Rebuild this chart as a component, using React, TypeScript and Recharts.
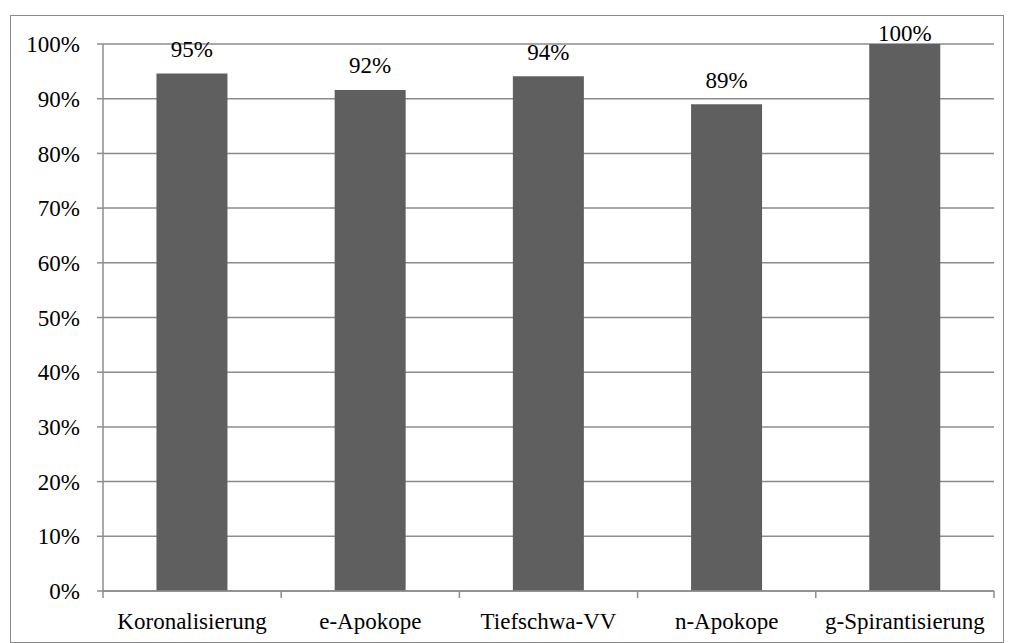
import React from 'react';
import { BarChart, Bar, XAxis, YAxis, CartesianGrid, LabelList } from 'recharts';

const categories = ['Koronalisierung', 'e-Apokope', 'Tiefschwa-VV', 'n-Apokope', 'g-Spirantisierung'];
const shares = [0.946, 0.916, 0.941, 0.89, 1.0];
const yTicks = [0, 0.1, 0.2, 0.3, 0.4, 0.5, 0.6, 0.7, 0.8, 0.9, 1.0];

const data = categories.map((name, i) => ({ name, value: shares[i] }));

const W = 1010;
const H = 643;
const M = { top: 44, right: 16, bottom: 22, left: 0 };
const Y_AXIS_W = 103;
const X_AXIS_H = 30;
const PLOT_W = W - M.left - M.right - Y_AXIS_W;
const STEP = PLOT_W / categories.length;
const AXIS_Y = H - M.bottom - X_AXIS_H;

const FONT = "'Times New Roman', 'Liberation Serif', Tinos, 'DejaVu Serif', serif";
const GRID = '#8c8c8c';
const BAR = '#5f5f5f';

const pct = (v: number) => `${Math.round(v * 100)}%`;

// category label at the band centre, tick marks on the band edges
const CategoryTick = (props: any) => {
  const { x, payload, index } = props;
  const left = x - STEP / 2;
  const last = index === categories.length - 1;
  return (
    <g>
      <line x1={left} x2={left} y1={AXIS_Y} y2={AXIS_Y + 7} stroke={GRID} strokeWidth={1.5} />
      {last && (
        <line x1={left + STEP} x2={left + STEP} y1={AXIS_Y} y2={AXIS_Y + 7} stroke={GRID} strokeWidth={1.5} />
      )}
      <text x={x} y={AXIS_Y + 30} textAnchor="middle" dominantBaseline="central" fontFamily={FONT} fontSize={23} fill="#000">
        {payload.value}
      </text>
    </g>
  );
};

const ValueLabel = (props: any) => {
  const { x, y, width, value } = props;
  const cy = Math.max(y - 24, 33);
  return (
    <text x={x + width / 2} y={cy} textAnchor="middle" dominantBaseline="central" fontFamily={FONT} fontSize={23} fill="#000">
      {pct(value)}
    </text>
  );
};

export default function App() {
  return (
    <div style={{ position: 'absolute', left: 0, top: 0, width: W, height: H, background: '#fff' }}>
      <div
        style={{
          position: 'absolute',
          left: 10,
          top: 15,
          width: 992,
          height: 626,
          border: '1.5px solid #8a8a8a',
        }}
      />
      <BarChart width={W} height={H} data={data} margin={M} barCategoryGap="30%">
        <CartesianGrid horizontal vertical={false} stroke={GRID} strokeWidth={1.5} />
        <XAxis
          dataKey="name"
          height={X_AXIS_H}
          axisLine={{ stroke: GRID, strokeWidth: 1.5 }}
          tickLine={false}
          tick={<CategoryTick />}
          interval={0}
        />
        <YAxis
          width={Y_AXIS_W}
          domain={[0, 1]}
          ticks={yTicks}
          tickFormatter={pct}
          axisLine={{ stroke: GRID, strokeWidth: 1.5 }}
          tickLine={{ stroke: GRID, strokeWidth: 1.5 }}
          tickSize={6}
          tickMargin={17}
          tick={{ fontSize: 23, fill: '#000', fontFamily: FONT }}
        />
        <Bar dataKey="value" fill={BAR} isAnimationActive={false}>
          <LabelList dataKey="value" content={<ValueLabel />} />
        </Bar>
      </BarChart>
    </div>
  );
}
